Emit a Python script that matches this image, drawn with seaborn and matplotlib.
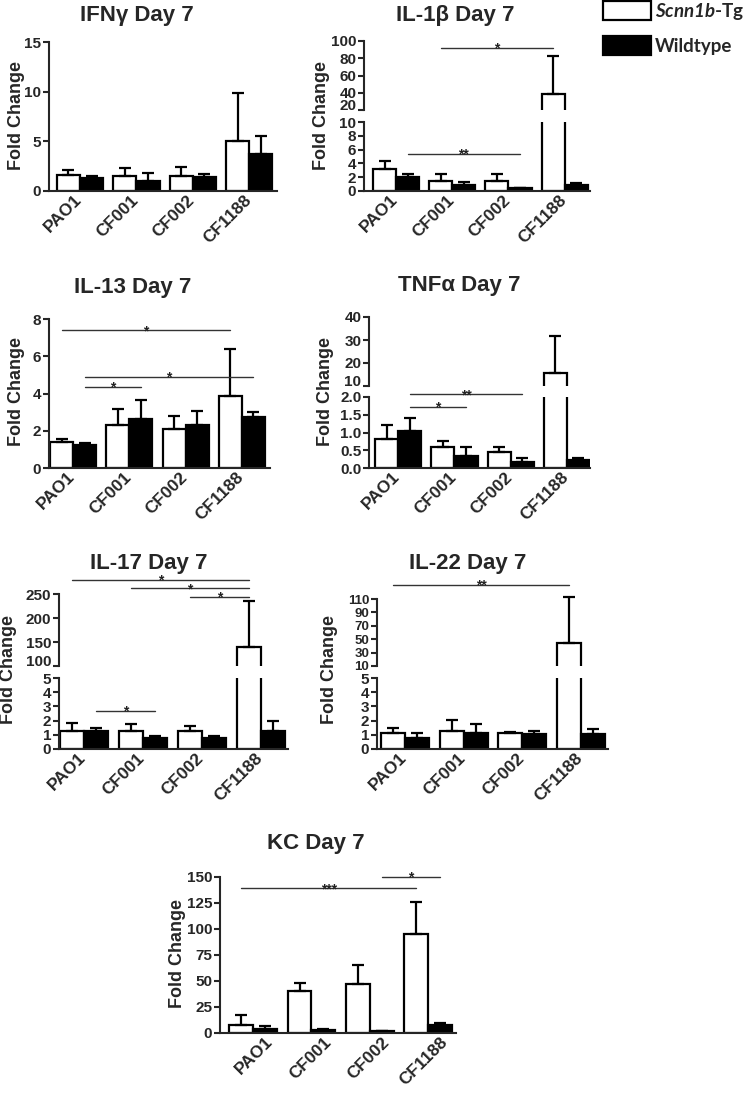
import numpy as np
import pandas as pd
import matplotlib
matplotlib.use("Agg")
import matplotlib.pyplot as plt
import seaborn as sns
from matplotlib.patches import Patch
from matplotlib.transforms import ScaledTranslation
from matplotlib.font_manager import FontProperties

# ---------------- data ----------------
categories = ["PAO1", "CF001", "CF002", "CF1188"]
series = ["Scnn1b-Tg", "Wildtype"]

ifng_tg = [1.6, 1.5, 1.5, 5.0]
ifng_tg_err = [0.5, 0.8, 0.9, 4.9]
ifng_wt = [1.3, 1.0, 1.4, 3.7]
ifng_wt_err = [0.2, 0.8, 0.3, 1.8]

il1b_tg = [3.2, 1.4, 1.5, 39.0]
il1b_tg_err = [1.1, 1.0, 0.9, 44.0]
il1b_wt = [2.0, 0.8, 0.4, 0.9]
il1b_wt_err = [0.5, 0.5, 0.1, 0.2]

il13_tg = [1.38, 2.29, 2.11, 3.85]
il13_tg_err = [0.18, 0.9, 0.7, 2.55]
il13_wt = [1.25, 2.63, 2.33, 2.75]
il13_wt_err = [0.09, 1.0, 0.75, 0.25]

tnfa_tg = [0.82, 0.58, 0.45, 15.5]
tnfa_tg_err = [0.4, 0.17, 0.15, 16.2]
tnfa_wt = [1.05, 0.33, 0.18, 0.22]
tnfa_wt_err = [0.35, 0.25, 0.1, 0.05]

il17_tg = [1.3, 1.25, 1.25, 140.0]
il17_tg_err = [0.5, 0.5, 0.4, 95.0]
il17_wt = [1.3, 0.8, 0.8, 1.3]
il17_wt_err = [0.2, 0.15, 0.15, 0.65]

il22_tg = [1.1, 1.3, 1.1, 45.0]
il22_tg_err = [0.35, 0.75, 0.1, 68.0]
il22_wt = [0.8, 1.15, 1.05, 1.05]
il22_wt_err = [0.3, 0.6, 0.25, 0.35]

kc_tg = [8.0, 40.0, 47.0, 95.0]
kc_tg_err = [9.0, 8.0, 18.0, 31.0]
kc_wt = [4.0, 3.0, 1.5, 8.0]
kc_wt_err = [3.0, 1.0, 0.5, 2.0]

titles = ["IFN\u03b3 Day 7", "IL-1\u03b2 Day 7", "IL-13 Day 7", "TNF\u03b1 Day 7",
          "IL-17 Day 7", "IL-22 Day 7", "KC Day 7"]

# significance brackets: (cat a, series a, cat b, series b, y value, label, axis part)
sig_ifng = []
sig_il1b = [(1, 0, 3, 0, 92, "*", "upper"), (0, 1, 2, 1, 5.4, "**", "lower")]
sig_il13 = [(0, 0, 3, 0, 7.4, "*", "lower"), (0, 1, 3, 1, 4.9, "*", "lower"),
            (0, 1, 1, 1, 4.35, "*", "lower")]
sig_tnfa = [(0, 1, 2, 1, 2.08, "**", "lower"), (0, 1, 1, 1, 1.72, "*", "lower")]
sig_il17 = [(0, 0, 3, 0, 279, "*", "upper"), (1, 0, 3, 0, 262, "*", "upper"),
            (2, 0, 3, 0, 244, "*", "upper"), (0, 1, 1, 1, 2.7, "*", "lower")]
sig_il22 = [(0, 0, 3, 0, 131, "**", "upper")]
sig_kc = [(0, 0, 3, 0, 139, "***", "lower"), (2, 1, 3, 1, 150, "*", "lower")]

# ---------------- style ----------------
sns.set_theme(style="ticks")
plt.rcParams["font.family"] = ["Liberation Sans", "DejaVu Sans"]
plt.rcParams["font.weight"] = "bold"
plt.rcParams["axes.labelweight"] = "bold"
plt.rcParams["axes.linewidth"] = 1.5
plt.rcParams["mathtext.fontset"] = "custom"
plt.rcParams["mathtext.it"] = "Lato:italic:bold"
plt.rcParams["mathtext.rm"] = "Lato:italic:bold"

W, H = 750, 1098
fig = plt.figure(figsize=(W / 100, H / 100), dpi=100)
palette = {series[0]: "white", series[1]: "black"}


def rect(l, r, t, b):
    return [l / W, 1 - b / H, (r - l) / W, (b - t) / H]


def draw_bars(ax, tg, tg_err, wt, wt_err):
    df = pd.DataFrame({
        "strain": categories * 2,
        "group": [series[0]] * 4 + [series[1]] * 4,
        "fold": list(tg) + list(wt),
    })
    sns.barplot(data=df, x="strain", y="fold", hue="group", order=categories,
                hue_order=series, palette=palette, edgecolor="black", linewidth=1.6,
                width=0.82, errorbar=None, legend=False, saturation=1, ax=ax)
    for cont, m, e in zip(ax.containers, [tg, wt], [tg_err, wt_err]):
        xs = [b.get_x() + b.get_width() / 2 for b in cont]
        ax.errorbar(xs, m, yerr=[np.zeros(len(m)), e], fmt="none", ecolor="black",
                    elinewidth=1.6, capsize=4.5, capthick=1.6)
    ax.set_xlabel("")
    ax.set_ylabel("")
    for s in ["top", "right"]:
        ax.spines[s].set_visible(False)
    ax.tick_params(axis="y", length=4, width=1.5, labelsize=11, pad=1.5)
    ax.tick_params(axis="x", length=0, labelsize=12.5, pad=1)


def bar_x(ax, cat, ser):
    b = ax.containers[ser][cat]
    return b.get_x() + b.get_width() / 2


def draw_sig(axes, sigs):
    for (ca, sa, cb, sb, y, lab, part) in sigs:
        ax = axes[part]
        x1, x2 = bar_x(ax, ca, sa), bar_x(ax, cb, sb)
        ax.plot([x1, x2], [y, y], color="#333333", lw=1.0, clip_on=False)
        ax.annotate(lab, xy=((x1 + x2) / 2, y), xytext=(0, -3.5),
                    textcoords="offset points", ha="center", va="baseline",
                    fontsize=10, color="#222222", annotation_clip=False)


def xlabels(ax, dx):
    ax.set_xticks(range(4))
    ax.set_xticklabels(categories, rotation=45, ha="right", va="top",
                       rotation_mode="anchor", fontsize=12.5, fontweight="bold")
    for lab in ax.get_xticklabels():
        lab.set_transform(lab.get_transform() + ScaledTranslation(dx / 100, 0, fig.dpi_scale_trans))


def simple_panel(pos, xlim, ylim, yticks, tg, tg_err, wt, wt_err, sigs, dx):
    ax = fig.add_axes(rect(*pos))
    draw_bars(ax, tg, tg_err, wt, wt_err)
    ax.set_xlim(*xlim)
    ax.set_ylim(*ylim)
    ax.set_yticks(yticks)
    xlabels(ax, dx)
    draw_sig({"lower": ax, "upper": ax}, sigs)
    return ax


def broken_panel(l, r, ut, ub, lt, lb, xlim, ylim_u, yt_u, ylim_l, yt_l,
                 tg, tg_err, wt, wt_err, sigs, dx, fmt=None, usize=11, ushift=5):
    # the upper axis may run a little past its top tick so a cap above it stays visible
    axu = fig.add_axes(rect(l, r, ut, ub))
    axl = fig.add_axes(rect(l, r, lt, lb))
    for ax in (axu, axl):
        draw_bars(ax, tg, tg_err, wt, wt_err)
        ax.set_xlim(*xlim)
    axu.set_ylim(*ylim_u)
    axu.set_yticks(yt_u)
    axu.tick_params(axis="y", labelsize=usize)
    axu.spines["left"].set_bounds(yt_u[0], yt_u[-1])
    axu.spines["bottom"].set_visible(False)
    axu.set_xticks([])
    low = axu.get_yticklabels()[0]
    low.set_transform(low.get_transform() + ScaledTranslation(0, ushift / 100, fig.dpi_scale_trans))
    axl.set_ylim(*ylim_l)
    axl.set_yticks(yt_l)
    if fmt:
        axl.set_yticklabels([fmt.format(v) for v in yt_l])
    xlabels(axl, dx)
    draw_sig({"lower": axl, "upper": axu}, sigs)
    return axu, axl


DX = -6
# Panel 1: IFNg
simple_panel((49, 277, 42, 191), (-0.55, 3.49), (0, 15), [0, 5, 10, 15],
             ifng_tg, ifng_tg_err, ifng_wt, ifng_wt_err, sig_ifng, DX)
# Panel 2: IL-1b
broken_panel(364, 590, 41, 110, 122, 191, (-0.57, 3.45), (20, 100), [20, 40, 60, 80, 100],
             (0, 10), [0, 2, 4, 6, 8, 10], il1b_tg, il1b_tg_err, il1b_wt, il1b_wt_err,
             sig_il1b, DX)
# Panel 3: IL-13
simple_panel((49, 270, 319, 468), (-0.43, 3.5), (0, 8), [0, 2, 4, 6, 8],
             il13_tg, il13_tg_err, il13_wt, il13_wt_err, sig_il13, DX)
# Panel 4: TNFa
broken_panel(369, 590, 317, 386, 397, 468, (-0.52, 3.41), (10, 40), [10, 20, 30, 40],
             (0, 2), [0, 0.5, 1.0, 1.5, 2.0], tnfa_tg, tnfa_tg_err, tnfa_wt, tnfa_wt_err,
             sig_tnfa, DX, fmt="{:.1f}")
# Panel 5: IL-17
broken_panel(59, 288, 594, 666, 678, 749, (-0.42, 3.46), (100, 250), [100, 150, 200, 250],
             (0, 5), [0, 1, 2, 3, 4, 5], il17_tg, il17_tg_err, il17_wt, il17_wt_err,
             sig_il17, DX)
# Panel 6: IL-22 (axis runs to 116 so the 113 cap is shown; spine stops at 110)
broken_panel(377, 608, 595, 666, 678, 749, (-0.48, 3.46), (10, 116), [10, 30, 50, 70, 90, 110],
             (0, 5), [0, 1, 2, 3, 4, 5], il22_tg, il22_tg_err, il22_wt, il22_wt_err,
             sig_il22, DX, usize=9.5, ushift=1)
# Panel 7: KC
simple_panel((220, 456, 877, 1033), (-0.57, 3.48), (0, 150), [0, 25, 50, 75, 100, 125, 150],
             kc_tg, kc_tg_err, kc_wt, kc_wt_err, sig_kc, 12)

# titles and y labels
title_pos = [(137, 15), (455, 15), (133, 287), (459, 286), (149, 563), (468, 563), (316, 843)]
ylab_pos = [(17, 116), (322, 116), (17, 391), (325, 391), (9, 670), (330, 670), (177, 953)]
for t, (x, y) in zip(titles, title_pos):
    fig.text(x / W, 1 - y / H, t, ha="center", va="center", fontsize=16, fontweight="bold")
for (x, y) in ylab_pos:
    fig.text(x / W, 1 - y / H, "Fold Change", ha="center", va="center", rotation=90,
             fontsize=13, fontweight="bold")

# legend
handles = [Patch(facecolor="white", edgecolor="black", linewidth=1.6),
           Patch(facecolor="black", edgecolor="black", linewidth=1.6)]
labels = [r"$\mathit{Scnn1b}$-Tg", "Wildtype"]
fig.legend(handles, labels, loc="upper left", bbox_to_anchor=(603 / W, 1 - 1 / H),
           frameon=False, handlelength=2.55, handleheight=1.15, handletextpad=0.2,
           labelspacing=0.75, borderpad=0, borderaxespad=0,
           prop=FontProperties(family="Lato", weight="bold", size=13.5))

fig.savefig("out.png", dpi=100)
